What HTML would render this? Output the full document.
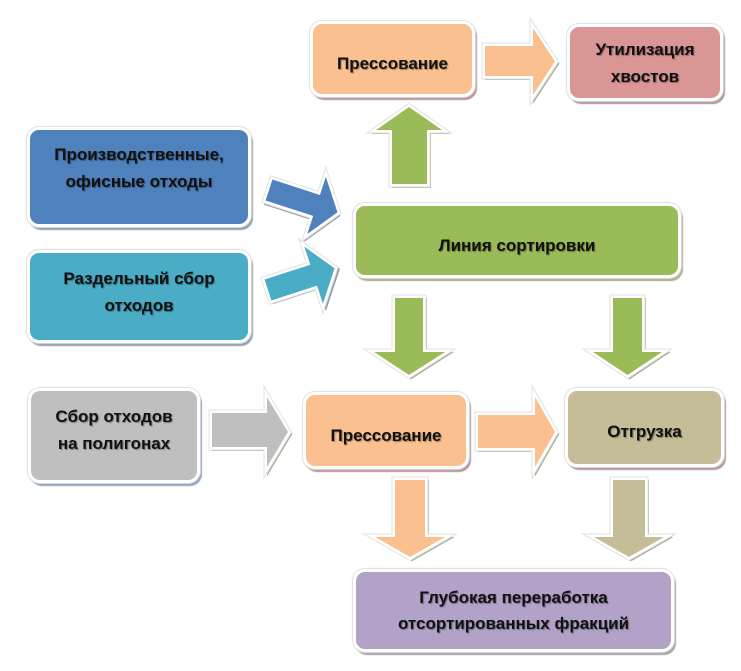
<!DOCTYPE html>
<html><head><meta charset="utf-8">
<style>
html,body{margin:0;padding:0;background:#fff;}
body{width:741px;height:671px;position:relative;overflow:hidden;font-family:"Liberation Sans","Noto Sans CJK SC",sans-serif;}
.b{position:absolute;box-sizing:border-box;border:3px solid #fff;border-radius:12px;display:flex;flex-direction:column;align-items:center;justify-content:center;text-align:center;font-weight:bold;font-size:17px;line-height:27px;color:#111;text-shadow:1px 1px 1px rgba(0,0,0,0.35);}
svg{position:absolute;left:0;top:0;}
</style></head><body>
<svg width="741" height="671" viewBox="0 0 741 671">
<defs>
<polygon id="pA" points="485,46 533,46 533,28 555,61.5 533,95 533,76 485,76"/>
<polygon id="pB" points="392,184 392,130 376,130 409,107 442,130 427,130 427,184"/>
<polygon id="pC" points="0,-11 50,-11 50,-30 72,0 50,30 50,11 0,11"/>
<polygon id="pD" points="0,-11 48,-11 48,-30 70,0 48,30 48,11 0,11"/>
<polygon id="pE" points="395,298 423,298 423,352 445,352 409,375 374,352 395,352"/>
<polygon id="pF" points="613,298 642,298 642,352 662,352 627.5,375 593,352 613,352"/>
<polygon id="pG" points="212,413 267,413 267,397 288,432 267,467 267,447 212,447"/>
<polygon id="pH" points="478,415 535,415 535,397 555,432 535,467 535,448 478,448"/>
<polygon id="pI" points="395,480 425,480 425,537 445,537 410,557 375,537 395,537"/>
<polygon id="pJ" points="613,480 645,480 645,537 664,537 629,557 594,537 613,537"/>
</defs>
<!-- A -->
<g><use href="#pA" transform="translate(2,2)" fill="#a6ae8f" stroke="#a6ae8f" stroke-width="4"/><use href="#pA" fill="none" stroke="#e2e2e2" stroke-width="7"/><use href="#pA" fill="#fac090" stroke="#fff" stroke-width="5"/><use href="#pA" fill="#fac090"/></g>
<!-- B -->
<g><use href="#pB" transform="translate(2,2)" fill="#a6ae8f" stroke="#a6ae8f" stroke-width="4"/><use href="#pB" fill="none" stroke="#e2e2e2" stroke-width="7"/><use href="#pB" fill="#9bbb59" stroke="#fff" stroke-width="5"/><use href="#pB" fill="#9bbb59"/></g>
<!-- C -->
<g transform="translate(269,190) rotate(18)"><use href="#pC" transform="translate(1.5,2.5)" fill="#8d9db2" stroke="#8d9db2" stroke-width="4"/><use href="#pC" fill="none" stroke="#e2e2e2" stroke-width="7"/><use href="#pC" fill="#4f81bd" stroke="#fff" stroke-width="5"/><use href="#pC" fill="#4f81bd"/></g>
<!-- D -->
<g transform="translate(268,290) rotate(-18)"><use href="#pD" transform="translate(2.5,2)" fill="#8d9db2" stroke="#8d9db2" stroke-width="4"/><use href="#pD" fill="none" stroke="#e2e2e2" stroke-width="7"/><use href="#pD" fill="#4bacc6" stroke="#fff" stroke-width="5"/><use href="#pD" fill="#4bacc6"/></g>
<!-- E -->
<g><use href="#pE" transform="translate(2,2)" fill="#a6ae8f" stroke="#a6ae8f" stroke-width="4"/><use href="#pE" fill="none" stroke="#e2e2e2" stroke-width="7"/><use href="#pE" fill="#9bbb59" stroke="#fff" stroke-width="5"/><use href="#pE" fill="#9bbb59"/></g>
<!-- F -->
<g><use href="#pF" transform="translate(2,2)" fill="#a6ae8f" stroke="#a6ae8f" stroke-width="4"/><use href="#pF" fill="none" stroke="#e2e2e2" stroke-width="7"/><use href="#pF" fill="#9bbb59" stroke="#fff" stroke-width="5"/><use href="#pF" fill="#9bbb59"/></g>
<!-- G -->
<g><use href="#pG" transform="translate(2,2)" fill="#a6ae8f" stroke="#a6ae8f" stroke-width="4"/><use href="#pG" fill="none" stroke="#e2e2e2" stroke-width="7"/><use href="#pG" fill="#bfbfbf" stroke="#fff" stroke-width="5"/><use href="#pG" fill="#bfbfbf"/></g>
<!-- H -->
<g><use href="#pH" transform="translate(2,2)" fill="#a6ae8f" stroke="#a6ae8f" stroke-width="4"/><use href="#pH" fill="none" stroke="#e2e2e2" stroke-width="7"/><use href="#pH" fill="#fac090" stroke="#fff" stroke-width="5"/><use href="#pH" fill="#fac090"/></g>
<!-- I -->
<g><use href="#pI" transform="translate(2,2)" fill="#a6ae8f" stroke="#a6ae8f" stroke-width="4"/><use href="#pI" fill="none" stroke="#e2e2e2" stroke-width="7"/><use href="#pI" fill="#fac090" stroke="#fff" stroke-width="5"/><use href="#pI" fill="#fac090"/></g>
<!-- J -->
<g><use href="#pJ" transform="translate(2,2)" fill="#a6ae8f" stroke="#a6ae8f" stroke-width="4"/><use href="#pJ" fill="none" stroke="#e2e2e2" stroke-width="7"/><use href="#pJ" fill="#c4bd97" stroke="#fff" stroke-width="5"/><use href="#pJ" fill="#c4bd97"/></g>
</svg>

<div class="b" style="left:310px;top:21px;width:165px;height:76px;background:#fac090;padding-top:8px;box-shadow:0 0 1px 1px #dedede,2px 3px 1px 0 #b69292;">Прессование</div>
<div class="b" style="left:567px;top:24px;width:156px;height:77px;background:#d99694;box-shadow:0 0 1px 1px #dedede,2px 3px 1px 0 #ab9393;">Утилизация<br>хвостов</div>
<div class="b" style="left:27px;top:127px;width:224px;height:100px;background:#4f81bd;padding-bottom:18px;box-shadow:0 0 1px 1px #dedede,2px 3px 1px 0 #8d9db2;">Производственные,<br>офисные отходы</div>
<div class="b" style="left:27px;top:250px;width:224px;height:93px;background:#4bacc6;padding-bottom:10px;box-shadow:0 0 1px 1px #dedede,2px 3px 1px 0 #8d9db2;">Раздельный сбор<br>отходов</div>
<div class="b" style="left:353px;top:203px;width:328px;height:75px;background:#9bbb59;padding-top:10px;box-shadow:0 0 1px 1px #dedede,2px 3px 1px 0 #a6ae8f;">Линия сортировки</div>
<div class="b" style="left:28px;top:388px;width:172px;height:95px;background:#bfbfbf;padding-bottom:12px;box-shadow:0 0 1px 1px #dedede,2px 3px 1px 0 #8ea0b8;">Сбор отходов<br>на полигонах</div>
<div class="b" style="left:303px;top:392px;width:166px;height:77px;background:#fac090;padding-top:10px;box-shadow:0 0 1px 1px #dedede,2px 3px 1px 0 #b69292;">Прессование</div>
<div class="b" style="left:565px;top:388px;width:159px;height:79px;background:#c4bd97;padding-top:8px;box-shadow:0 0 1px 1px #dedede,2px 3px 1px 0 #b69292;">Отгрузка</div>
<div class="b" style="left:353px;top:569px;width:321px;height:83px;background:#b2a2c7;line-height:26px;box-shadow:0 0 1px 1px #dedede,2px 3px 1px 0 #a0a0a8;">Глубокая переработка<br>отсортированных фракций</div>
</body></html>
